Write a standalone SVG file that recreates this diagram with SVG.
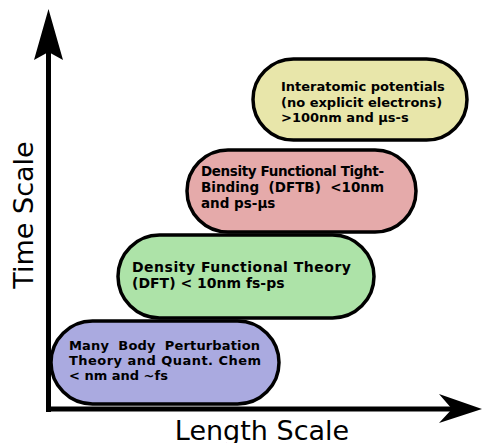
<svg xmlns="http://www.w3.org/2000/svg" width="482" height="443" viewBox="0 0 482 443">
<style>
.box{stroke:#000;stroke-width:3.5}
.t{font-family:"DejaVu Sans",Verdana,sans-serif;font-weight:bold;font-size:13px;fill:#000;white-space:pre}
.ax{font-family:"DejaVu Sans",Verdana,sans-serif;font-size:27px;fill:#000}
</style>
<g id="connectors">
<line x1="48.5" y1="412" x2="48.5" y2="50" stroke="#000" stroke-width="5"/>
<polygon points="48.5,9 63,60 48.5,52 34,60" fill="#000"/>
<line x1="46" y1="409" x2="460" y2="409" stroke="#000" stroke-width="5"/>
<polygon points="482,409 439,423 452,409 439,394" fill="#000"/>
</g>
<g id="purple">
<rect class="box" x="51" y="321" width="228" height="83" rx="41.5" fill="#aaaae0"/>
<text class="t"><tspan x="69" y="350" textLength="191" lengthAdjust="spacing">Many  Body  Perturbation</tspan><tspan x="69" y="365" textLength="192" lengthAdjust="spacing">Theory and Quant. Chem</tspan><tspan x="69" y="380">&lt; nm and ~fs</tspan></text>
</g>
<g id="green">
<rect class="box" x="118" y="235" width="256" height="83" rx="41.5" fill="#ade3a8"/>
<text class="t" style="font-size:14px"><tspan x="132" y="272" textLength="219" lengthAdjust="spacing">Density Functional Theory</tspan><tspan x="132" y="288">(DFT) &lt; 10nm fs-ps</tspan></text>
</g>
<g id="pink">
<rect class="box" x="187" y="150" width="229" height="82" rx="41" fill="#e5aaaa"/>
<text class="t" style="font-size:13.5px"><tspan x="201" y="176" textLength="183" lengthAdjust="spacing">Density Functional Tight-</tspan><tspan x="201" y="192" textLength="183" lengthAdjust="spacing">Binding  (DFTB)  &lt;10nm</tspan><tspan x="201" y="208">and ps-μs</tspan></text>
</g>
<g id="yellow">
<rect class="box" x="253" y="59" width="214" height="81" rx="40.5" fill="#e8e6aa"/>
<text class="t"><tspan x="281" y="91">Interatomic potentials</tspan><tspan x="281" y="106.5">(no explicit electrons)</tspan><tspan x="281" y="122">&gt;100nm and μs-s</tspan></text>
</g>
<text class="ax" transform="translate(33,215) rotate(-90)" text-anchor="middle">Time Scale</text>
<text class="ax" x="262" y="440" text-anchor="middle">Length Scale</text>
</svg>
